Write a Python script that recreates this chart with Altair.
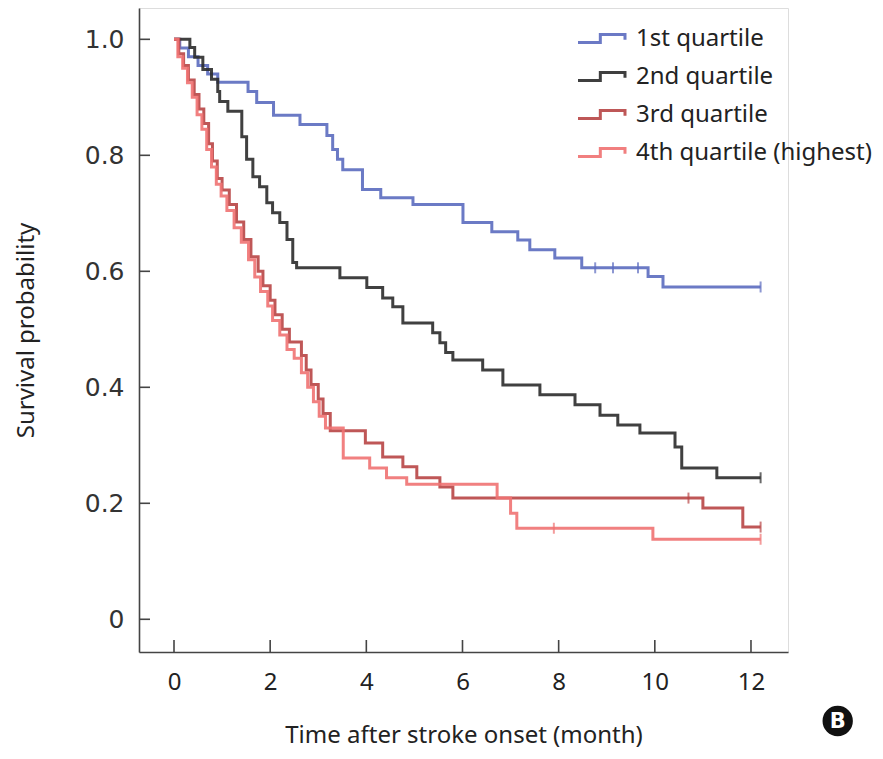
import altair as alt
import pandas as pd

# ---- data ----
series_names = ["1st quartile", "2nd quartile", "3rd quartile", "4th quartile (highest)"]
series_colors = ["#5b6bbf", "#2b2b2b", "#b84545", "#f07272"]

q1_t = [0, 0.12, 0.3, 0.5, 0.7, 0.91, 1.54, 1.72, 2.07, 2.62, 3.18, 3.3, 3.4, 3.51, 3.92, 4.3, 4.97,
        6.01, 6.61, 7.15, 7.4, 7.92, 8.48, 9.86, 10.17, 12.2]
q1_s = [1.0, 0.985, 0.97, 0.955, 0.94, 0.926, 0.910, 0.891, 0.869, 0.853, 0.834, 0.81, 0.793, 0.775,
        0.741, 0.727, 0.715, 0.684, 0.668, 0.654, 0.637, 0.623, 0.606, 0.591, 0.573, 0.573]

q2_t = [0, 0.33, 0.43, 0.6, 0.78, 0.91, 0.95, 1.12, 1.41, 1.51, 1.64, 1.78, 1.93, 2.05, 2.2, 2.35,
        2.47, 2.55, 3.45, 4.01, 4.34, 4.55, 4.76, 5.38, 5.53, 5.65, 5.80, 6.42, 6.84, 7.61, 8.34, 8.86,
        9.23, 9.69, 10.42, 10.56, 11.29, 12.2]
q2_s = [1.0, 0.986, 0.969, 0.948, 0.931, 0.910, 0.893, 0.876, 0.832, 0.793, 0.763, 0.746, 0.718,
        0.701, 0.684, 0.655, 0.615, 0.606, 0.589, 0.572, 0.554, 0.539, 0.511, 0.494, 0.477, 0.46,
        0.447, 0.430, 0.404, 0.387, 0.370, 0.352, 0.335, 0.321, 0.297, 0.261, 0.244, 0.244]

q3_t = [0, 0.1, 0.2, 0.3, 0.42, 0.52, 0.62, 0.72, 0.8, 0.9, 1.0, 1.15, 1.3, 1.45, 1.6, 1.75, 1.85,
        2.0, 2.1, 2.25, 2.4, 2.65, 2.75, 2.85, 3.0, 3.1, 3.25, 3.98, 4.34, 4.76, 5.05, 5.53, 5.80,
        11.0, 11.83, 12.2]
q3_s = [1.0, 0.975, 0.955, 0.93, 0.905, 0.88, 0.855, 0.82, 0.79, 0.76, 0.74, 0.715, 0.685, 0.655,
        0.625, 0.60, 0.575, 0.55, 0.525, 0.50, 0.478, 0.455, 0.43, 0.405, 0.38, 0.355, 0.325, 0.304,
        0.280, 0.263, 0.244, 0.228, 0.209, 0.192, 0.159, 0.159]

q4_t = [0, 0.08, 0.18, 0.28, 0.38, 0.48, 0.58, 0.68, 0.78, 0.88, 0.98, 1.1, 1.25, 1.4, 1.55, 1.68,
        1.8, 1.95, 2.05, 2.2, 2.35, 2.5, 2.65, 2.78, 2.9, 3.02, 3.15, 3.52, 4.07, 4.42, 4.84, 6.72,
        7.0, 7.13, 9.96, 12.2]
q4_s = [1.0, 0.97, 0.95, 0.925, 0.9, 0.87, 0.845, 0.81, 0.78, 0.75, 0.73, 0.705, 0.675, 0.65, 0.62,
        0.59, 0.565, 0.54, 0.515, 0.49, 0.465, 0.45, 0.425, 0.40, 0.375, 0.35, 0.33, 0.278, 0.261,
        0.244, 0.233, 0.209, 0.183, 0.157, 0.138, 0.138]

# censor marks (time, survival)
cens_group = ["1st quartile", "1st quartile", "1st quartile", "1st quartile", "2nd quartile",
              "3rd quartile", "3rd quartile", "4th quartile (highest)", "4th quartile (highest)"]
cens_t = [8.76, 9.13, 9.65, 12.2, 12.2, 10.7, 12.2, 7.9, 12.2]
cens_s = [0.606, 0.606, 0.606, 0.573, 0.244, 0.209, 0.159, 0.157, 0.138]

x_ticks = [0, 2, 4, 6, 8, 10, 12]
y_ticks = [0, 0.2, 0.4, 0.6, 0.8, 1.0]

# ---- tables ----
rows = []
for name, ts, ss in zip(series_names, [q1_t, q2_t, q3_t, q4_t], [q1_s, q2_s, q3_s, q4_s]):
    for t, s in zip(ts, ss):
        rows.append({"group": name, "time": t, "surv": s})
curves = pd.DataFrame(rows)
cens = pd.DataFrame({"group": cens_group, "time": cens_t, "surv": cens_s})
xt = pd.DataFrame({"v": x_ticks})
yt = pd.DataFrame({"v": y_ticks})

W, H = 649, 644
XDOM = [-0.728, 12.77]
YDOM = [-0.0564, 1.054]

xs = alt.Scale(domain=XDOM, nice=False, zero=False)
ys = alt.Scale(domain=YDOM, nice=False, zero=False)
cs = alt.Scale(domain=series_names, range=series_colors)

x_axis = alt.Axis(values=x_ticks, ticks=False, grid=False, domainColor="#444", domainWidth=1.6,
                  labelFont="Noto Sans", labelFontSize=24, labelColor="#222", labelPadding=18,
                  title="Time after stroke onset (month)", titleFont="Noto Sans", titleFontSize=24,
                  titleFontWeight="normal", titleColor="#222", titlePadding=29, labelFlush=False)
y_axis = alt.Axis(values=y_ticks, ticks=False, grid=False, domainColor="#444", domainWidth=1.6,
                  labelFont="DejaVu Sans", labelFontSize=25, labelColor="#333", labelPadding=15,
                  labelExpr="datum.value == 0 ? '0' : format(datum.value, '.1f')",
                  title="Survival probability", titleFont="Noto Sans", titleFontSize=24,
                  titleFontWeight="normal", titleColor="#222", titlePadding=46, labelFlush=False)

# step-shaped legend symbol, retraced so that it encloses no fill area
step_path = "M-2,0.35H-0.1V-0.35H2V0.1V-0.35H-0.1V0.35H-2"

lines = alt.Chart(curves).mark_line(interpolate="step-after", strokeWidth=3, opacity=0.9).encode(
    x=alt.X("time:Q", scale=xs, axis=x_axis),
    y=alt.Y("surv:Q", scale=ys, axis=y_axis),
    color=alt.Color("group:N", scale=cs, sort=series_names, legend=alt.Legend(
        orient="none", legendX=449, legendY=17, title=None, padding=0,
        symbolType=step_path, symbolSize=552, symbolStrokeWidth=3,
        symbolFillColor="transparent",
        labelFont="Noto Sans", labelFontSize=24, labelColor="#222", labelOffset=21,
        rowPadding=12, labelLimit=400)),
    detail="group:N",
)

ticks = alt.Chart(cens).mark_tick(orient="vertical", size=11, thickness=2).encode(
    x=alt.X("time:Q", scale=xs),
    y=alt.Y("surv:Q", scale=ys),
    color=alt.Color("group:N", scale=cs, legend=None),
)

xtick_marks = alt.Chart(xt).mark_rule(color="#444", strokeWidth=1.6).encode(
    x=alt.X("v:Q", scale=xs), y=alt.value(H), y2=alt.value(H - 12))
ytick_marks = alt.Chart(yt).mark_rule(color="#444", strokeWidth=1.6).encode(
    y=alt.Y("v:Q", scale=ys), x=alt.value(0), x2=alt.value(11))

badge_df = pd.DataFrame({"label": ["B"]})
badge = alt.Chart(badge_df).mark_circle(size=920, color="#111", opacity=1, clip=False).encode(
    x=alt.value(698.7), y=alt.value(713))
badge_txt = alt.Chart(badge_df).mark_text(font="DejaVu Sans", fontSize=21, fontWeight="bold",
                                          color="white", clip=False, baseline="middle", dy=1).encode(
    x=alt.value(698.7), y=alt.value(713), text="label:N")

chart = alt.layer(lines, ticks, xtick_marks, ytick_marks, badge, badge_txt).properties(
    width=W, height=H,
    autosize=alt.AutoSizeParams(type="none"),
    padding={"left": 131, "top": 0, "right": 87, "bottom": 100},
).configure_view(stroke=None).configure(background="white")

chart.save("out.html", embed_options={"renderer": "svg", "actions": False})
